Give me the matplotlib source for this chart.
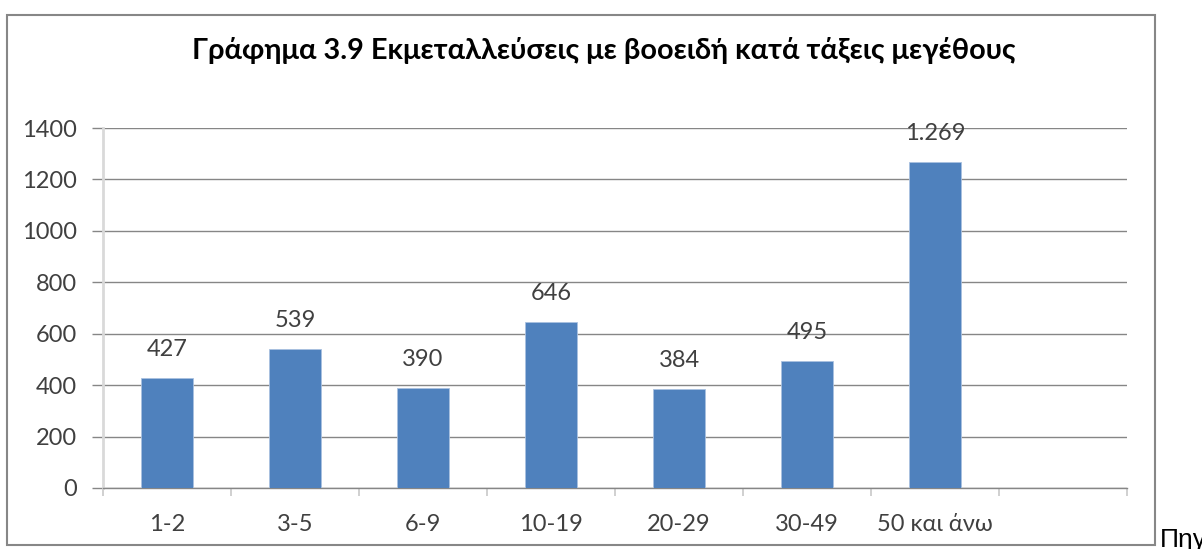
import matplotlib
matplotlib.use('Agg')
import matplotlib.pyplot as plt
from matplotlib.patches import Rectangle
import numpy as np

TITLE = 'Γράφημα 3.9 Εκμεταλλεύσεις με βοοειδή κατά τάξεις μεγέθους'
CATEGORIES = ['1-2', '3-5', '6-9', '10-19', '20-29', '30-49', '50 και άνω']
VALUES = [427, 539, 390, 646, 384, 495, 1269]
LABELS = ['427', '539', '390', '646', '384', '495', '1.269']
Y_TICKS = [0, 200, 400, 600, 800, 1000, 1200, 1400]

FONT = ['Lato', 'DejaVu Sans']
BAR_COLOR = '#4F81BD'
GRID_COLOR = '#868686'
TEXT_COLOR = '#404040'

plt.rcParams['font.family'] = FONT

fig = plt.figure(figsize=(12.02, 5.49), dpi=100)
ax = fig.add_axes([103 / 1202, 61 / 549, 1024 / 1202, 360 / 549])

x = np.arange(len(VALUES))
bars = ax.bar(x, VALUES, width=0.4, color=BAR_COLOR, edgecolor='#A9C1E0',
              linewidth=0.6, zorder=3)

for b, lab in zip(bars, LABELS):
    ax.annotate(lab, (b.get_x() + b.get_width() / 2, b.get_height()),
                xytext=(0, 13), textcoords='offset points', ha='center',
                va='bottom', fontsize=17, color=TEXT_COLOR)

ax.set_xlim(-0.5, 7.5)
ax.set_ylim(0, 1400)
ax.set_yticks(Y_TICKS)
ax.set_yticklabels([str(v) for v in Y_TICKS], fontsize=17, color=TEXT_COLOR)
ax.yaxis.grid(True, color=GRID_COLOR, linewidth=1, zorder=0)

# category labels centred, tick marks on the slot borders
ax.set_xticks(x)
ax.set_xticklabels(CATEGORIES, fontsize=17, color=TEXT_COLOR)
ax.tick_params(axis='x', length=0, pad=19)
ax.set_xticks(np.arange(-0.5, 8.0, 1.0), minor=True)
ax.tick_params(axis='x', which='minor', length=6, width=1.2, color='#C8C8C8',
               direction='out')
ax.tick_params(axis='y', length=8, width=1, color=GRID_COLOR, pad=11)

for s in ['top', 'right']:
    ax.spines[s].set_visible(False)
ax.spines['left'].set_color('#D9D9D9')
ax.spines['left'].set_linewidth(2)
ax.spines['bottom'].set_color(GRID_COLOR)
ax.spines['bottom'].set_linewidth(1)

fig.text(604 / 1202, 1 - 50 / 549, TITLE, ha='center', va='center',
         fontsize=20.8, fontweight='bold', color='#000000')

# chart frame
fig.patches.append(Rectangle((7 / 1202, 4 / 549), 1148 / 1202, 530 / 549,
                             transform=fig.transFigure, fill=False,
                             edgecolor='#878787', linewidth=1.5))

# source note, cut off by the image edge as in the original
fig.text(1160 / 1202, 1.5 / 549, 'Πηγή', ha='left', va='baseline',
         fontsize=19, color='#000000',
         family=['Liberation Sans Narrow', 'Liberation Sans', 'DejaVu Sans'])

fig.savefig('out.png', dpi=100)
